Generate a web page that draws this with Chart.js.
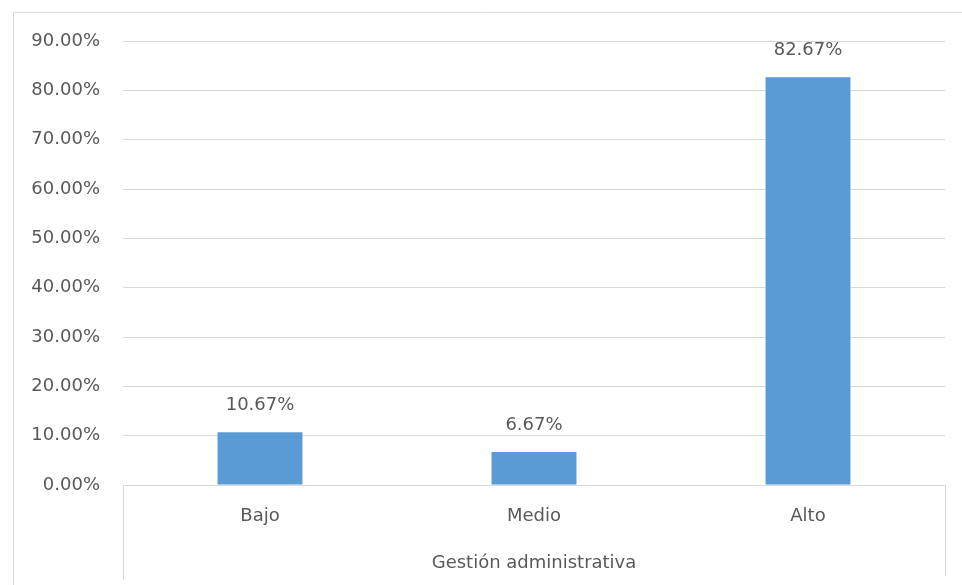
<!DOCTYPE html>
<html>
<head>
<meta charset="utf-8">
<script src="https://cdn.jsdelivr.net/npm/chart.js@4/dist/chart.umd.min.js"></script>
<style>
  html, body { margin: 0; padding: 0; background: #ffffff; }
  #wrap { width: 962px; height: 585px; position: relative; }
</style>
</head>
<body>
<div id="wrap"><canvas id="c" width="962" height="585"></canvas></div>
<script>
const categories = ["Bajo", "Medio", "Alto"];
const values = [10.67, 6.67, 82.67];
const axisTitle = "Gestión administrativa";
const yMin = 0, yMax = 90, yStep = 10;

const FONT = "'DejaVu Sans', sans-serif";
const TEXT = "#595959";
const GRID = "#d9d9d9";

const decor = {
  id: "decor",
  afterDraw(chart) {
    const ctx = chart.ctx;
    const a = chart.chartArea;
    ctx.save();
    ctx.strokeStyle = GRID;
    ctx.lineWidth = 1;
    // outer border
    ctx.beginPath();
    ctx.moveTo(13.5, 585);
    ctx.lineTo(13.5, 12.5);
    ctx.lineTo(962, 12.5);
    ctx.stroke();
    // category-axis side separators
    ctx.beginPath();
    ctx.moveTo(Math.round(a.left) + 0.5, a.bottom);
    ctx.lineTo(Math.round(a.left) + 0.5, 580);
    ctx.moveTo(Math.round(a.right) + 0.5, a.bottom);
    ctx.lineTo(Math.round(a.right) + 0.5, 576);
    ctx.stroke();
    ctx.restore();
  },
  afterDatasetsDraw(chart) {
    const ctx = chart.ctx;
    const meta = chart.getDatasetMeta(0);
    ctx.save();
    ctx.fillStyle = TEXT;
    ctx.font = "18px " + FONT;
    ctx.textAlign = "center";
    ctx.textBaseline = "middle";
    meta.data.forEach((bar, i) => {
      const v = chart.data.datasets[0].data[i];
      ctx.fillText(v.toFixed(2) + "%", bar.x, bar.y - 27);
    });
    ctx.restore();
  }
};

new Chart(document.getElementById("c"), {
  type: "bar",
  data: {
    labels: categories,
    datasets: [{
      data: values,
      backgroundColor: "#5b9bd5",
      borderWidth: 0,
      barPercentage: 0.31,
      categoryPercentage: 1.0
    }]
  },
  options: {
    responsive: false,
    animation: false,
    devicePixelRatio: 1,
    layout: { padding: { left: 13, top: 41, right: 17, bottom: 0 } },
    plugins: { legend: { display: false }, tooltip: { enabled: false } },
    scales: {
      x: {
        grid: { display: false },
        border: { display: false },
        ticks: { color: TEXT, font: { family: FONT, size: 18 }, padding: 13 },
        title: { display: true, text: axisTitle, color: TEXT, font: { family: FONT, size: 18 }, padding: { top: 0, bottom: 11 } },
        afterFit(s) { s.height = 100; }
      },
      y: {
        min: yMin, max: yMax,
        grid: { color: GRID, drawTicks: false, lineWidth: 1 },
        border: { display: false },
        ticks: {
          stepSize: yStep,
          color: TEXT,
          font: { family: FONT, size: 18 },
          padding: 23,
          callback: v => v.toFixed(2) + "%"
        },
        afterFit(s) { s.width = 110; }
      }
    }
  },
  plugins: [decor]
});
</script>
</body>
</html>
